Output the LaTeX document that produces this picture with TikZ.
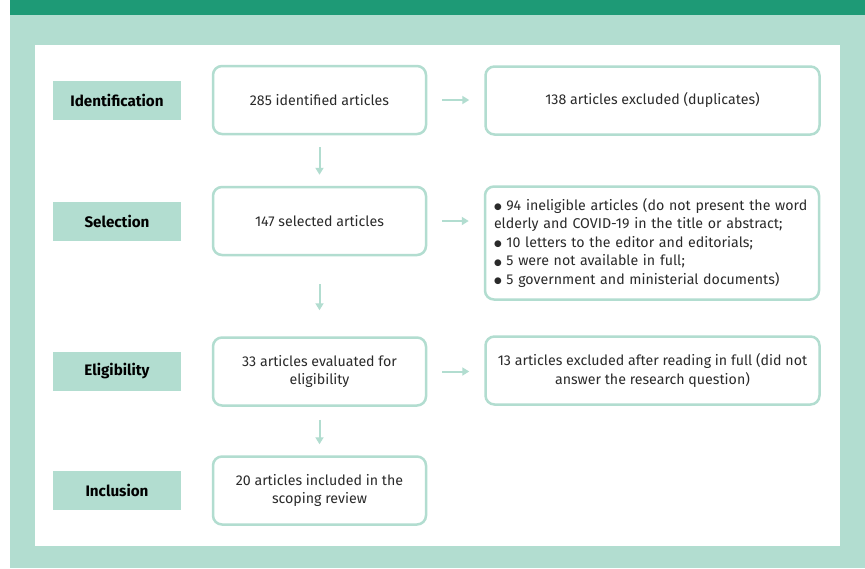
\documentclass[tikz,border=0pt]{standalone}
\usepackage{fontspec}
\setmainfont{Fira Sans}
\newfontfamily\symfont{DejaVu Sans}
\usetikzlibrary{arrows.meta}
\definecolor{darkgreen}{HTML}{1E9A76}
\definecolor{mint}{HTML}{B2DDD0}
\definecolor{ink}{HTML}{2A2A2A}
\newcommand\listdot{{\symfont\raisebox{0.1ex}{\scalebox{0.62}{●}}}}
\begin{document}
\begin{tikzpicture}[x=1pt,y=-1pt,
  stagebox/.style={fill=mint, minimum width=128pt, minimum height=39pt,
    inner sep=0pt, text=black, font=\bfseries\fontsize{15.2}{17}\selectfont},
  flowbox/.style={draw=mint, line width=2.5pt, rounded corners=9pt, fill=white,
    minimum width=213pt, minimum height=68pt, inner sep=0pt, align=center,
    text=ink, font=\fontsize{14.2}{18.5}\selectfont},
  widebox/.style={flowbox, minimum width=334pt},
  flowarrow/.style={draw=mint, line width=2pt,
    -{Triangle[length=7pt,width=8pt]}}
]
\useasboundingbox (0,0) rectangle (865,568);
% page frame
\fill[white] (0,0) rectangle (865,568);
\fill[mint] (10,14) rectangle (865,568);
\fill[darkgreen] (10,0) rectangle (865,15);
\fill[white] (35,45) rectangle (840,546);

% stage labels
\node[stagebox] (s1) at (117,100.5) {Identification};
\node[stagebox] (s2) at (117,221.5) {Selection};
\node[stagebox] (s3) at (117,371.5) {Eligibility};
\node[stagebox] (s4) at (117,490.5) {Inclusion};

% main column
\node[flowbox] (m1) at (319.5,100) {285 identified articles};
\node[flowbox] (m2) at (319.5,221) {147 selected articles};
\node[flowbox] (m3) at (319.5,371.5) {33 articles evaluated for\\eligibility};
\node[flowbox] (m4) at (319.5,490.5) {20 articles included in the\\scoping review};

% exclusions
\node[widebox] (r1) at (652.5,100.5) {138 articles excluded (duplicates)};
\node[widebox, minimum height=113pt, align=left, inner xsep=9pt,
      text width=316pt] (r2) at (652,243)
  {\listdot\ 94 ineligible articles (do not present the word\\
   elderly and COVID-19 in the title or abstract;\\
   \listdot\ 10 letters to the editor and editorials;\\
   \listdot\ 5 were not available in full;\\
   \listdot\ 5 government and ministerial documents)};
\node[widebox] (r3) at (652.5,370.5) {13 articles excluded after reading in full (did not\\answer the research question)};

% connectors
\draw[flowarrow, shorten <=15pt, shorten >=15pt] (m1.east) -- (m1.east -| r1.west);
\draw[flowarrow, shorten <=15pt, shorten >=15pt] (m2.east) -- (m2.east -| r2.west);
\draw[flowarrow, shorten <=15pt, shorten >=15pt] (m3.east) -- (m3.east -| r3.west);
\draw[flowarrow, shorten <=12pt, shorten >=11pt] (m1.south) -- (m2.north);
\draw[flowarrow, shorten <=28pt, shorten >=26pt] (m2.south) -- (m3.north);
\draw[flowarrow, shorten <=13pt, shorten >=11pt] (m3.south) -- (m4.north);
\end{tikzpicture}
\end{document}
